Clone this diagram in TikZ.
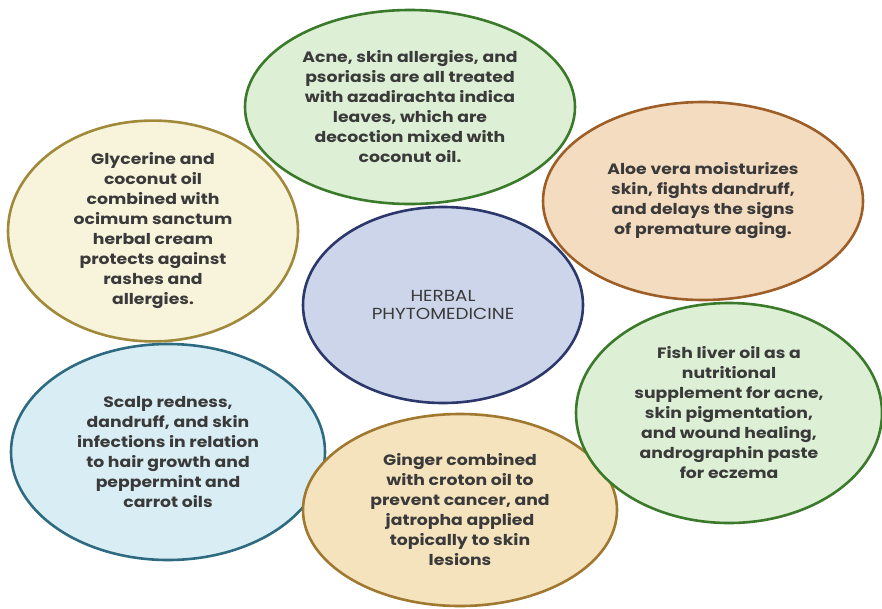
\documentclass[tikz,border=0pt]{standalone}
\usepackage{fontspec}
\setmainfont{Poppins}[FakeStretch=1.15]
\usetikzlibrary{shapes.geometric}

\definecolor{leafFill}{HTML}{DDF0D6}
\definecolor{leafLine}{HTML}{3B7A2A}
\definecolor{creamFill}{HTML}{F8F4DC}
\definecolor{creamLine}{HTML}{A08A3A}
\definecolor{tanFill}{HTML}{F4DCC0}
\definecolor{tanLine}{HTML}{9E5E28}
\definecolor{hubFill}{HTML}{CDD5EA}
\definecolor{hubLine}{HTML}{2C386C}
\definecolor{skyFill}{HTML}{D9EDF4}
\definecolor{skyLine}{HTML}{2E6B80}
\definecolor{sandFill}{HTML}{F5E3BD}
\definecolor{sandLine}{HTML}{A07830}
\definecolor{inkGray}{HTML}{3A3A3A}

\begin{document}
\begin{tikzpicture}[x=1pt, y=-1pt,
    bubble/.style={shape=ellipse, line width=2.6pt, inner sep=0pt, text=inkGray,
        align=center, font=\fontsize{15}{20}\selectfont\bfseries},
    hub/.style={bubble, font=\fontsize{16}{18}\selectfont}]

    \useasboundingbox (0,0) rectangle (882,608);

    \node at (410,107) (neem) [bubble, draw=leafLine, fill=leafFill, minimum width=330pt, minimum height=194pt]
        {Acne, skin allergies, and\\ psoriasis are all treated\\ with azadirachta indica\\ leaves, which are\\ decoction mixed with\\ coconut oil.};
    \node at (153,231) (basil) [bubble, draw=creamLine, fill=creamFill, minimum width=290pt, minimum height=216pt]
        {Glycerine and\\ coconut oil\\ combined with\\ ocimum sanctum\\ herbal cream\\ protects against\\ rashes and\\ allergies.};
    \node at (703,201) (aloe) [bubble, draw=tanLine, fill=tanFill, minimum width=320pt, minimum height=198pt]
        {Aloe vera moisturizes\\ skin, fights dandruff,\\ and delays the signs\\ of premature aging.};
    \node at (443,305) (herbal) [hub, draw=hubLine, fill=hubFill, minimum width=280pt, minimum height=196pt]
        {HERBAL\\ PHYTOMEDICINE};
    \node at (168,452) (scalp) [bubble, draw=skyLine, fill=skyFill, minimum width=314pt, minimum height=216pt]
        {Scalp redness,\\ dandruff, and skin\\ infections in relation\\ to hair growth and\\ peppermint and\\ carrot oils};
    \node at (460,510) (ginger) [bubble, draw=sandLine, fill=sandFill, minimum width=314pt, minimum height=192pt]
        {Ginger combined\\ with croton oil to\\ prevent cancer, and\\ jatropha applied\\ topically to skin\\ lesions};
    \node at (729,413) (fish) [bubble, draw=leafLine, fill=leafFill, minimum width=306pt, minimum height=220pt]
        {Fish liver oil as a\\ nutritional\\ supplement for acne,\\ skin pigmentation,\\ and wound healing,\\ andrographin paste\\ for eczema};

\end{tikzpicture}
\end{document}
